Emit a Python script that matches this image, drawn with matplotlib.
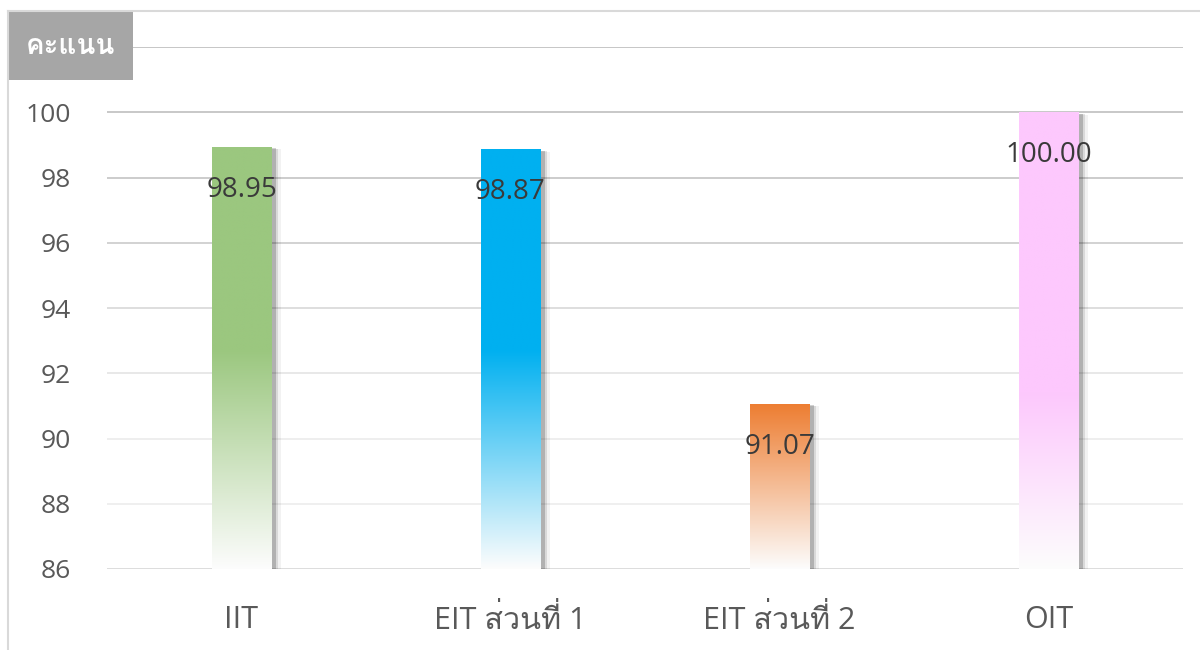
import numpy as np
import matplotlib
matplotlib.use("Agg")
import matplotlib.pyplot as plt
from matplotlib import font_manager, patheffects
from matplotlib.ft2font import FT2Font
from matplotlib.lines import Line2D
from matplotlib.patches import Rectangle

categories = ["IIT", "EIT ส่วนที่ 1", "EIT ส่วนที่ 2", "OIT"]
scores = [98.95, 98.87, 91.07, 100.00]
bar_colors = ["#9bc77f", "#00b0f0", "#ed7d31", "#fdc8fd"]
y_ticks = [86, 88, 90, 92, 94, 96, 98, 100]
y_title = "คะแนน"


def find_thai_font():
    # pick the first installed family that has Thai glyphs
    for f in font_manager.fontManager.ttflist:
        try:
            cmap = FT2Font(f.fname).get_charmap()
        except Exception:
            continue
        if 0x0E04 in cmap and 0x0E48 in cmap:
            return f.name
    return None


thai = find_thai_font()
families = ["Open Sans"] + ([thai] if thai else []) + ["DejaVu Sans"]
plt.rcParams["font.family"] = families

fig = plt.figure(figsize=(12, 6.5), dpi=100)
ax = fig.add_axes([107 / 1200, 1 - 569 / 650, 1076 / 1200, 522 / 650])

ymin, ymax = 86, 102
ax.set_ylim(ymin, ymax)
ax.set_xlim(-0.5, len(categories) - 0.5)

# gridlines fade from darker at the top to light at the bottom
grid_vals = [88, 90, 92, 94, 96, 98, 100, 102]
grid_cols = ["#efefef", "#eeeeee", "#e8e8e8", "#dedede", "#d2d2d2", "#cccccc", "#c8c8c8", "#c6c6c6"]
for gv, gc in zip(grid_vals, grid_cols):
    ax.axhline(gv, color=gc, lw=1.4, zorder=0)
ax.axhline(86, color="#d9d9d9", lw=2, zorder=0)

width = 0.223
# value where each bar's colour starts fading to white
fade_from = [92.7, 92.7, 91.07, 91.4]
for i, (v, c) in enumerate(zip(scores, bar_colors)):
    x0 = i - width / 2
    base = Rectangle((x0, ymin), width, v - ymin, facecolor="white", edgecolor="none", zorder=2)
    base.set_path_effects([
        patheffects.SimplePatchShadow(offset=(7, -2), shadow_rgbFace="#000000", alpha=0.05),
        patheffects.SimplePatchShadow(offset=(5, -1.5), shadow_rgbFace="#000000", alpha=0.1),
        patheffects.SimplePatchShadow(offset=(3, -1), shadow_rgbFace="#000000", alpha=0.18),
        patheffects.Normal(),
    ])
    ax.add_patch(base)

    ys = np.linspace(v, ymin, 200)
    ft = fade_from[i]
    t = np.clip((ft - ys) / (ft - ymin), 0, 1)[:, None]
    rgb = np.array(matplotlib.colors.to_rgb(c))
    grad = rgb * (1 - t) + np.array([0.99, 0.99, 0.99]) * t
    img = np.repeat(grad[:, None, :], 2, axis=1)
    im = ax.imshow(img, extent=[x0, x0 + width, ymin, v], aspect="auto", zorder=3,
                   interpolation="bilinear")
    im.set_clip_path(base)

    ax.annotate(f"{v:.2f}", (i, v), xytext=(0, -43), textcoords="offset pixels",
                ha="center", va="center", fontsize=20, color="#3a3a3a", zorder=5)

ax.set_xticks(range(len(categories)))
ax.set_xticklabels(categories, fontsize=22, color="#595959")
ax.set_yticks(y_ticks)
ax.set_yticklabels([str(t) for t in y_ticks], fontsize=19, color="#595959")
ax.tick_params(axis="x", length=0, pad=26)
ax.tick_params(axis="y", length=0, pad=26)
for s in ax.spines.values():
    s.set_visible(False)

# chart frame (left and top edges)
fig.add_artist(Line2D([8 / 1200, 8 / 1200], [0, 1 - 11 / 650], color="#d9d9d9", lw=1.5))
fig.add_artist(Line2D([8 / 1200, 1], [1 - 11 / 650, 1 - 11 / 650], color="#d9d9d9", lw=1.5))

# axis title box
fig.add_artist(Rectangle((8 / 1200, 1 - 80 / 650), 125 / 1200, 69 / 650,
                         facecolor="#a6a6a6", edgecolor="none", transform=fig.transFigure))
fig.text(70 / 1200, 1 - 47 / 650, y_title, ha="center", va="center", fontsize=20,
         color="white", fontweight="bold")

fig.savefig("out.png", dpi=100)
